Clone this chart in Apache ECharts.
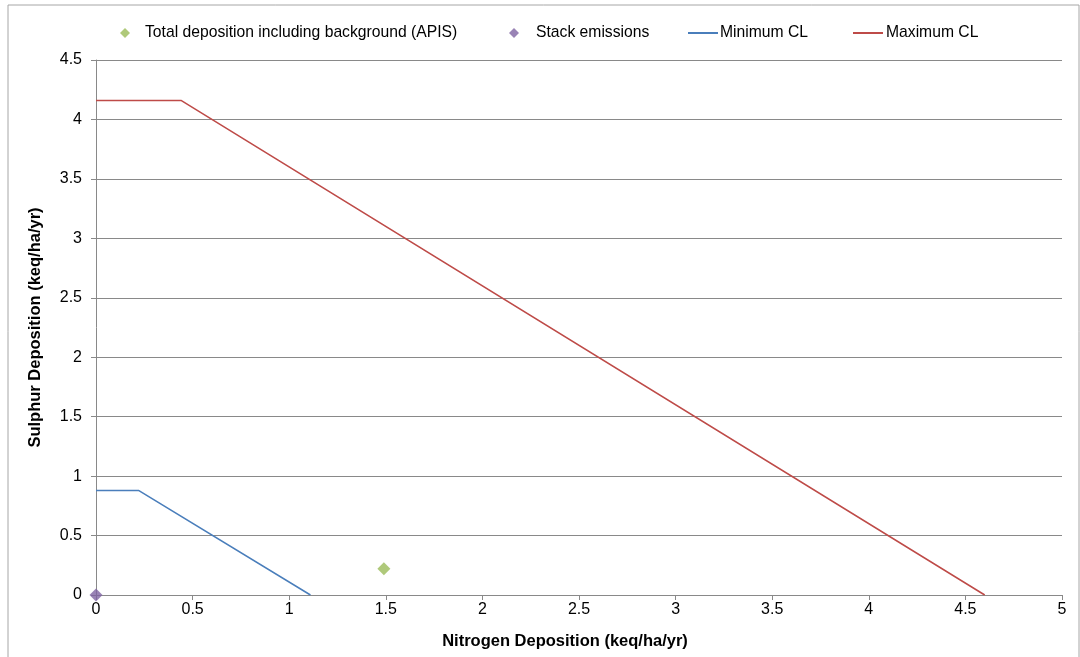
<!DOCTYPE html>
<html>
<head>
<meta charset="utf-8">
<script src="https://cdn.jsdelivr.net/npm/echarts@6/dist/echarts.min.js"></script>
<style>
  html, body { margin: 0; padding: 0; background: #fff; }
  #chart { width: 1080px; height: 657px; }
</style>
</head>
<body>
<div id="chart"></div>
<script>
// data
const totalDeposition = [[1.49, 0.22]];
const stackEmissions = [[0, 0]];
const minimumCL = [[0, 0.88], [0.22, 0.88], [1.11, 0]];
const maximumCL = [[0, 4.16], [0.44, 4.16], [4.6, 0]];

const chart = echarts.init(document.getElementById("chart"));
const font = "Liberation Sans, Arial, sans-serif";

const legendBase = {
  top: 25,
  padding: 0,
  textStyle: { fontFamily: font, fontSize: 15.7, color: "#000" },
  selectedMode: false,
};

function legendText(pad) {
  return Object.assign({}, legendBase.textStyle, { padding: [0, 0, 0, pad] });
}

const option = {
  animation: false,
  graphic: [
    {
      type: "rect",
      shape: { x: 8, y: 5, width: 1071, height: 660 },
      style: { fill: "none", stroke: "#a6a6a6", lineWidth: 1 },
    },
  ],
  legend: [
    Object.assign({}, legendBase, {
      left: 120, itemWidth: 10, itemHeight: 10, textStyle: legendText(10),
      data: [{ name: "Total deposition including background (APIS)", icon: "diamond" }],
    }),
    Object.assign({}, legendBase, {
      left: 509, itemWidth: 10, itemHeight: 10, textStyle: legendText(12),
      data: [{ name: "Stack emissions", icon: "diamond" }],
    }),
    Object.assign({}, legendBase, {
      left: 688, itemWidth: 30, itemHeight: 2, textStyle: legendText(-3),
      data: [{ name: "Minimum CL", icon: "rect" }],
    }),
    Object.assign({}, legendBase, {
      left: 853, itemWidth: 30, itemHeight: 2, textStyle: legendText(-2),
      data: [{ name: "Maximum CL", icon: "rect" }],
    }),
  ],
  grid: { left: 96, right: 18, top: 60, bottom: 62 },
  xAxis: {
    type: "value",
    min: 0,
    max: 5,
    interval: 0.5,
    name: "Nitrogen Deposition (keq/ha/yr)",
    nameLocation: "middle",
    nameGap: 38,
    nameTextStyle: {
      fontFamily: font, fontSize: 16.5, fontWeight: "bold", color: "#000",
      padding: [0, 28, 0, 0],
    },
    axisLine: { lineStyle: { color: "#898989" } },
    axisTick: { show: true, length: 5, lineStyle: { color: "#898989" } },
    axisLabel: { fontFamily: font, fontSize: 16, color: "#000", margin: 7 },
    splitLine: { show: false },
  },
  yAxis: {
    type: "value",
    min: 0,
    max: 4.5,
    interval: 0.5,
    name: "Sulphur Deposition (keq/ha/yr)",
    nameLocation: "middle",
    nameGap: 52,
    nameTextStyle: { fontFamily: font, fontSize: 16.5, fontWeight: "bold", color: "#000" },
    axisLine: { show: true, lineStyle: { color: "#898989" } },
    axisTick: { show: true, length: 5, lineStyle: { color: "#898989" } },
    axisLabel: { fontFamily: font, fontSize: 16, color: "#000", margin: 14 },
    splitLine: { show: true, lineStyle: { color: "#898989", width: 1 } },
  },
  series: [
    {
      name: "Total deposition including background (APIS)",
      type: "scatter",
      symbol: "diamond",
      symbolSize: 13,
      itemStyle: { color: "#9bbb59" },
      data: totalDeposition,
      z: 5,
    },
    {
      name: "Stack emissions",
      type: "scatter",
      symbol: "diamond",
      symbolSize: 13,
      itemStyle: { color: "#8064a2" },
      data: stackEmissions,
      z: 5,
    },
    {
      name: "Minimum CL",
      type: "line",
      symbol: "none",
      lineStyle: { color: "#4a7ebb", width: 1.5 },
      itemStyle: { color: "#4a7ebb" },
      data: minimumCL,
    },
    {
      name: "Maximum CL",
      type: "line",
      symbol: "none",
      lineStyle: { color: "#be4b48", width: 1.5 },
      itemStyle: { color: "#be4b48" },
      data: maximumCL,
    },
  ],
};

chart.setOption(option);
</script>
</body>
</html>
